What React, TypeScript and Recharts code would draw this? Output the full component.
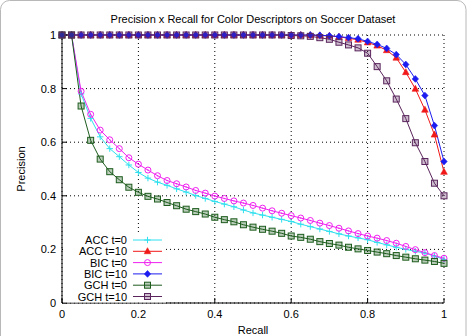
import React from 'react';
import { LineChart, Line, XAxis, YAxis, CartesianGrid } from 'recharts';

const recall = [0, 0.025, 0.05, 0.075, 0.1, 0.125, 0.15, 0.175, 0.2, 0.225, 0.25, 0.275, 0.3, 0.325, 0.35, 0.375, 0.4, 0.425, 0.45, 0.475, 0.5, 0.525, 0.55, 0.575, 0.6, 0.625, 0.65, 0.675, 0.7, 0.725, 0.75, 0.775, 0.8, 0.825, 0.85, 0.875, 0.9, 0.925, 0.95, 0.975, 1];

const accT0 = [1, 1, 0.78, 0.689, 0.62, 0.576, 0.546, 0.515, 0.487, 0.466, 0.451, 0.439, 0.426, 0.414, 0.401, 0.39, 0.379, 0.369, 0.359, 0.347, 0.336, 0.328, 0.32, 0.312, 0.304, 0.294, 0.285, 0.276, 0.267, 0.258, 0.25, 0.243, 0.236, 0.226, 0.217, 0.208, 0.2, 0.193, 0.186, 0.175, 0.163];

const accT10 = [1, 1, 1, 1, 1, 1, 1, 1, 1, 1, 1, 1, 1, 1, 1, 1, 1, 1, 1, 1, 1, 1, 1, 1, 1, 1, 0.999, 0.998, 0.997, 0.993, 0.988, 0.982, 0.972, 0.96, 0.943, 0.915, 0.861, 0.799, 0.721, 0.628, 0.489];

const bicT0 = [1, 1, 0.79, 0.704, 0.645, 0.609, 0.576, 0.542, 0.518, 0.496, 0.475, 0.457, 0.445, 0.433, 0.42, 0.41, 0.399, 0.39, 0.381, 0.373, 0.364, 0.354, 0.344, 0.335, 0.326, 0.317, 0.308, 0.298, 0.289, 0.279, 0.269, 0.259, 0.25, 0.242, 0.233, 0.223, 0.211, 0.199, 0.188, 0.177, 0.167];

const bicT10 = [1, 1, 1, 1, 1, 1, 1, 1, 1, 1, 1, 1, 1, 1, 1, 1, 1, 1, 1, 1, 1, 1, 1, 1, 1, 1, 1, 0.999, 0.997, 0.994, 0.99, 0.986, 0.976, 0.965, 0.95, 0.927, 0.89, 0.836, 0.774, 0.662, 0.528];

const gchT0 = [1, 1, 0.735, 0.607, 0.537, 0.49, 0.46, 0.432, 0.413, 0.398, 0.388, 0.375, 0.363, 0.35, 0.341, 0.332, 0.32, 0.311, 0.303, 0.292, 0.283, 0.275, 0.268, 0.26, 0.25, 0.245, 0.238, 0.229, 0.222, 0.216, 0.208, 0.202, 0.196, 0.19, 0.184, 0.177, 0.171, 0.165, 0.16, 0.155, 0.148];

const gchT10 = [1, 1, 1, 1, 1, 1, 1, 1, 1, 1, 1, 1, 1, 1, 1, 1, 1, 1, 1, 1, 1, 1, 1, 1, 0.998, 0.997, 0.995, 0.99, 0.984, 0.973, 0.963, 0.952, 0.932, 0.882, 0.829, 0.761, 0.688, 0.598, 0.528, 0.447, 0.4];

const xTicks = [0, 0.2, 0.4, 0.6, 0.8, 1];
const yTicks = [0, 0.2, 0.4, 0.6, 0.8, 1];

const seriesNames = ['ACC t=0', 'ACC t=10', 'BIC t=0', 'BIC t=10', 'GCH t=0', 'GCH t=10'];
const seriesKeys = ['accT0', 'accT10', 'bicT0', 'bicT10', 'gchT0', 'gchT10'];
const seriesColors = ['#2fe0ee', '#f01818', '#f020f0', '#1c1cf0', '#1d5c1d', '#5a255c'];
const seriesMarkers = ['cross', 'triangle', 'circle', 'diamond', 'square', 'square'];

const title = 'Precision x Recall for Color Descriptors on Soccer Dataset';
const xLabel = 'Recall';
const yLabel = 'Precision';

const data = recall.map((r, i) => ({
  recall: r,
  accT0: accT0[i],
  accT10: accT10[i],
  bicT0: bicT0[i],
  bicT10: bicT10[i],
  gchT0: gchT0[i],
  gchT10: gchT10[i],
}));

const FONT = '"Liberation Sans", Arial, Helvetica, sans-serif';

function Marker({ kind, cx, cy, color }: { kind: string; cx: number; cy: number; color: string }) {
  if (kind === 'cross') {
    return <path d={`M${cx - 3.2},${cy}h6.4M${cx},${cy - 3.2}v6.4`} stroke={color} strokeWidth={1} fill="none" />;
  }
  if (kind === 'triangle') {
    return <path d={`M${cx},${cy - 3.6}L${cx + 3.3},${cy + 2.4}L${cx - 3.3},${cy + 2.4}Z`} fill={color} stroke={color} strokeWidth={0.6} />;
  }
  if (kind === 'circle') {
    return (
      <g>
        <circle cx={cx} cy={cy} r={3} fill="none" stroke={color} strokeWidth={1} />
        <circle cx={cx} cy={cy} r={0.7} fill={color} />
      </g>
    );
  }
  if (kind === 'diamond') {
    return <path d={`M${cx},${cy - 3.4}L${cx + 3.2},${cy}L${cx},${cy + 3.4}L${cx - 3.2},${cy}Z`} fill={color} stroke={color} strokeWidth={0.6} />;
  }
  return <rect x={cx - 3} y={cy - 3} width={6} height={6} fill={color} fillOpacity={0.3} stroke={color} strokeWidth={1} />;
}

const makeDot = (kind: string, color: string) => (props: any) => {
  const { cx, cy, index } = props;
  if (cx == null || cy == null) return <g key={`e-${index}`} />;
  return (
    <g key={`m-${index}`}>
      <Marker kind={kind} cx={cx} cy={cy} color={color} />
    </g>
  );
};

export default function App() {
  const legendTop = 240;
  const legendStep = 11.3;
  return (
    <div style={{ position: 'absolute', left: 0, top: 0, width: 472, height: 336, background: '#fff', fontFamily: FONT }}>
      <LineChart width={472} height={336} data={data} margin={{ top: 35, right: 28, bottom: 0, left: 0 }}>
        <CartesianGrid stroke="#000" strokeDasharray="1 3" strokeWidth={1} />
        <XAxis
          dataKey="recall"
          type="number"
          domain={[0, 1]}
          ticks={xTicks}
          interval={0}
          height={33}
          tickSize={-5}
          tickMargin={12}
          axisLine={{ stroke: '#000' }}
          tickLine={{ stroke: '#000' }}
          tick={{ fill: '#000', fontSize: 11, fontFamily: FONT }}
          tickFormatter={(v: number) => String(v)}
        />
        <XAxis
          xAxisId="top"
          orientation="top"
          dataKey="recall"
          type="number"
          domain={[0, 1]}
          ticks={xTicks}
          interval={0}
          height={0}
          tickSize={-5}
          tick={false}
          axisLine={{ stroke: '#000' }}
          tickLine={{ stroke: '#000' }}
        />
        <YAxis
          type="number"
          domain={[0, 1]}
          ticks={yTicks}
          interval={0}
          width={62}
          tickSize={-5}
          tickMargin={11}
          axisLine={{ stroke: '#000' }}
          tickLine={{ stroke: '#000' }}
          tick={{ fill: '#000', fontSize: 11, fontFamily: FONT }}
          tickFormatter={(v: number) => String(v)}
        />
        <YAxis
          yAxisId="right"
          orientation="right"
          type="number"
          domain={[0, 1]}
          ticks={yTicks}
          interval={0}
          width={0}
          tickSize={-5}
          tick={false}
          axisLine={{ stroke: '#000' }}
          tickLine={{ stroke: '#000' }}
        />
        {seriesKeys.map((k, i) => (
          <Line
            key={k}
            dataKey={k}
            name={seriesNames[i]}
            type="linear"
            stroke={seriesColors[i]}
            strokeWidth={1}
            dot={makeDot(seriesMarkers[i], seriesColors[i])}
            activeDot={false}
            isAnimationActive={false}
          />
        ))}
      </LineChart>
      <svg
        width={472}
        height={336}
        style={{ position: 'absolute', left: 0, top: 0, pointerEvents: 'none' }}
      >
        <rect x={0.5} y={0.5} width={465.5} height={345} rx={9} ry={9} fill="none" stroke="#b8b8b8" strokeWidth={1} />
        <text x={253} y={23} textAnchor="middle" fontSize={11} fontFamily={FONT} fill="#000">{title}</text>
        <text x={253} y={334} textAnchor="middle" fontSize={11} fontFamily={FONT} fill="#000">{xLabel}</text>
        <text x={0} y={0} transform="translate(25,169) rotate(-90)" textAnchor="middle" fontSize={11} fontFamily={FONT} fill="#000">{yLabel}</text>
        <rect x={63} y={234} width={103} height={68.5} fill="#fff" />
        {seriesNames.map((n, i) => {
          const y = legendTop + i * legendStep;
          return (
            <g key={n}>
              <text x={127} y={y + 4} textAnchor="end" fontSize={11} fontFamily={FONT} fill="#000">{n}</text>
              <line x1={133} x2={162} y1={y} y2={y} stroke={seriesColors[i]} strokeWidth={1} />
              <Marker kind={seriesMarkers[i]} cx={147.5} cy={y} color={seriesColors[i]} />
            </g>
          );
        })}
      </svg>
    </div>
  );
}
